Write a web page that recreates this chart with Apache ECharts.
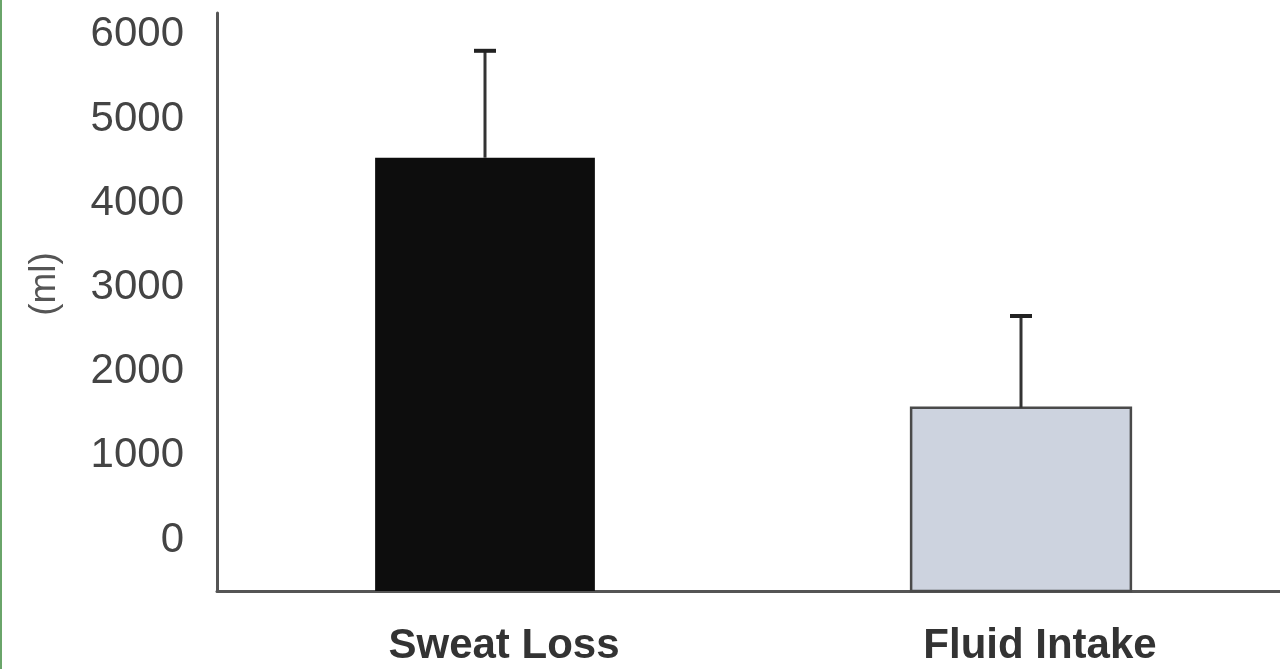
<!DOCTYPE html>
<html>
<head>
<meta charset="utf-8">
<script src="https://cdn.jsdelivr.net/npm/echarts@6/dist/echarts.min.js"></script>
<style>
html,body{margin:0;padding:0;background:#fff;}
#chart{width:1280px;height:669px;}
</style>
</head>
<body>
<div id="chart"></div>
<script>
const categories = ['Sweat Loss', 'Fluid Intake'];
const meanValues = [4540, 1570];
const errorValues = [1270, 1090];
const tickLabels = [0, 1000, 2000, 3000, 4000, 5000, 6000];
const yMin = -606;
const yMax = 6259;

const barColors = ['#0d0d0d', '#cdd3df'];
const barBorders = ['#0d0d0d', '#4a4a4a'];

const chart = echarts.init(document.getElementById('chart'));
const barData = categories.map((c, i) => [i, meanValues[i]]);
const errData = categories.map((c, i) => [i, meanValues[i], meanValues[i] + errorValues[i]]);

chart.setOption({
  animation: false,
  backgroundColor: '#ffffff',
  grid: { left: 217, width: 1072, top: 13, bottom: 78, containLabel: false, outerBoundsMode: 'none' },
  graphic: [{
    type: 'rect', left: 0, top: 0, shape: { width: 2, height: 669 },
    style: { fill: '#6aa56a' }, z: 100
  }],
  xAxis: {
    type: 'category',
    data: categories,
    boundaryGap: true,
    axisLine: { show: true, onZero: false, lineStyle: { color: '#555', width: 3 } },
    axisTick: { show: false },
    axisLabel: {
      color: '#333', fontSize: 42, fontWeight: 'bold',
      fontFamily: 'Liberation Sans, Arial, sans-serif',
      margin: 34, padding: [0, 0, 0, 38]
    }
  },
  yAxis: {
    type: 'value',
    min: yMin, max: yMax,
    name: '(ml)',
    nameLocation: 'middle',
    nameGap: 154,
    nameRotate: 90,
    nameTextStyle: { color: '#555', fontSize: 37, fontFamily: 'Liberation Sans, Arial, sans-serif', padding: [0, 0, 0, 36] },
    axisLine: { show: true, onZero: false, lineStyle: { color: '#555', width: 3 } },
    axisTick: { show: false },
    splitLine: { show: false },
    axisLabel: {
      customValues: tickLabels,
      formatter: function (v) { return String(v); },
      color: '#444', fontSize: 42, margin: 33,
      fontFamily: 'Liberation Sans, Arial, sans-serif'
    }
  },
  series: [
    {
      type: 'custom',
      data: barData,
      encode: { x: 0, y: 1 },
      renderItem: function (params, api) {
        const i = api.value(0);
        const top = api.coord([i, api.value(1)]);
        const base = api.coord([i, yMin]);
        const w = api.size([1, 0])[0] * 0.41;
        return {
          type: 'rect',
          shape: { x: top[0] - w / 2, y: top[1], width: w, height: base[1] - top[1] },
          style: { fill: barColors[i], stroke: barBorders[i], lineWidth: i === 0 ? 0 : 2.5 }
        };
      }
    },
    {
      type: 'custom',
      data: errData,
      encode: { x: 0, y: [1, 2] },
      z: 3,
      renderItem: function (params, api) {
        const i = api.value(0);
        const lo = api.coord([i, api.value(1)]);
        const hi = api.coord([i, api.value(2)]);
        const cap = 11;
        return {
          type: 'group',
          children: [
            { type: 'line', shape: { x1: lo[0], y1: lo[1], x2: hi[0], y2: hi[1] }, style: { stroke: '#333', lineWidth: 3 } },
            { type: 'line', shape: { x1: hi[0] - cap, y1: hi[1], x2: hi[0] + cap, y2: hi[1] }, style: { stroke: '#222', lineWidth: 4 } }
          ]
        };
      }
    }
  ]
});
</script>
</body>
</html>
